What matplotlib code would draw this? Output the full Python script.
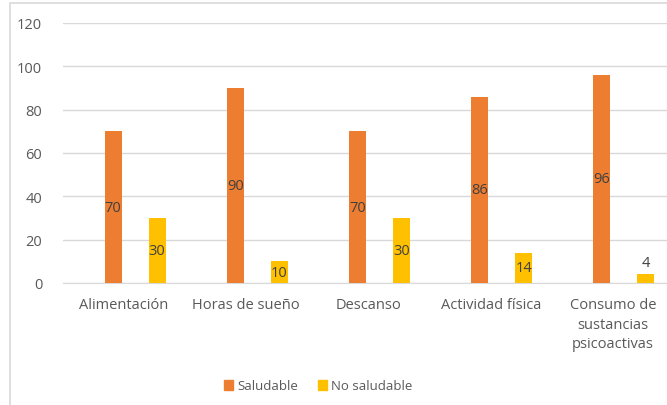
import numpy as np
import matplotlib.pyplot as plt
from matplotlib.patches import Rectangle, Patch

plt.rcParams['font.family'] = ['Open Sans', 'DejaVu Sans']

categories = ['Alimentación', 'Horas de sueño', 'Descanso', 'Actividad física',
              'Consumo de\nsustancias\npsicoactivas']
saludable = [70, 90, 70, 86, 96]
no_saludable = [30, 10, 30, 14, 4]

orange = '#ED7D31'
yellow = '#FFC000'
textcol = '#595959'
labelcol = '#404040'
gridcol = '#D9D9D9'

W, H = 667, 406
fig = plt.figure(figsize=(W / 100, H / 100), dpi=100)

# chart frame (only left and top edges show)
fig.patches.append(Rectangle((10 / W, -0.1), 1.2, (H - 4) / H + 0.1, transform=fig.transFigure,
                             fill=False, edgecolor=gridcol, linewidth=1.2))

ax = fig.add_axes([63 / W, (H - 284) / H, 611 / W, 260 / H])

x = np.arange(len(categories))
w = 0.138
b1 = ax.bar(x - 0.09, saludable, w, color=orange, zorder=3)
b2 = ax.bar(x + 0.27, no_saludable, w, color=yellow, zorder=3)

# value labels in the middle of the bars, above when the bar is too short
for bars, vals in ((b1, saludable), (b2, no_saludable)):
    for bar, v in zip(bars, vals):
        cx = bar.get_x() + bar.get_width() / 2
        if v < 8:
            ax.text(cx, v + 2, str(v), ha='center', va='bottom', fontsize=10.5, color=labelcol)
        else:
            ax.text(cx, v / 2, str(v), ha='center', va='center', fontsize=10.5, color=labelcol, zorder=4)

ax.set_xlim(-0.5, len(categories) - 0.5)
ax.set_ylim(0, 120)
ax.set_yticks(range(0, 121, 20))
ax.yaxis.grid(True, color=gridcol, linewidth=1)
ax.set_axisbelow(True)
for s in ('left', 'right', 'top'):
    ax.spines[s].set_visible(False)
ax.spines['bottom'].set_color(gridcol)
ax.tick_params(axis='y', length=0, pad=15, labelsize=10.5, labelcolor=textcol)
ax.tick_params(axis='x', length=0, pad=10, labelsize=10.5, labelcolor=textcol)
ax.set_xticks(x)
ax.set_xticklabels(categories, linespacing=1.42)

handles = [Patch(color=orange), Patch(color=yellow)]
fig.legend(handles, ['Saludable', 'No saludable'], loc='center', bbox_to_anchor=(318 / W, 1 - 387 / H),
           ncol=2, frameon=False, fontsize=9.5, labelcolor=textcol, handlelength=0.7, handleheight=0.7,
           handletextpad=0.3, columnspacing=1.5)

fig.savefig('out.png', dpi=100)
